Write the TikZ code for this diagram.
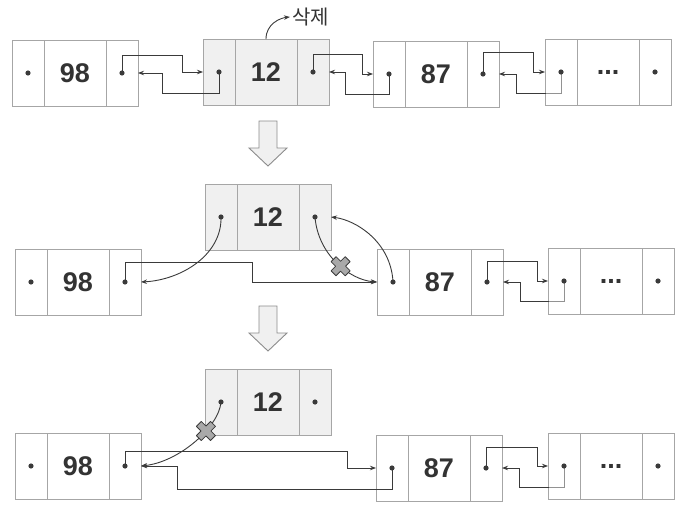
\documentclass[tikz,border=0pt]{standalone}
\usepackage{fontspec}
\setmainfont{Liberation Sans}
\newfontfamily\krfont{Noto Sans CJK KR}
\usetikzlibrary{arrows.meta,calc}

\definecolor{boxline}{HTML}{A6A6A6}
\definecolor{cellgray}{HTML}{F0F0F0}
\definecolor{ink}{HTML}{3A3A3A}
\definecolor{txt}{HTML}{333333}
\definecolor{xfill}{HTML}{A9A9A9}
\definecolor{arrowline}{HTML}{8C8C8C}

\newcommand\numfont{\fontsize{27}{27}\selectfont\bfseries}

\tikzset{
  cell/.style={draw=boxline, line width=0.9pt, inner sep=0pt, outer sep=0pt,
               minimum height=66pt, anchor=north west, text=txt, font=\numfont},
  link/.style={draw=ink, line width=0.9pt, -{Stealth[length=6pt,width=4.5pt]}},
  ptr/.style={fill=ink},
  fade/.style={fill=white, fill opacity=0.45},
  xmark/.pic={\filldraw[fill=xfill, draw=ink, line width=0.8pt, line join=round, rotate=45]
     (-3.5,-10) -- (3.5,-10) -- (3.5,-3.5) -- (10,-3.5) -- (10,3.5) -- (3.5,3.5)
     -- (3.5,10) -- (-3.5,10) -- (-3.5,3.5) -- (-10,3.5) -- (-10,-3.5) -- (-3.5,-3.5) -- cycle;},
  downarrow/.pic={\filldraw[fill=cellgray, draw=arrowline, line width=0.9pt, line join=miter]
     (-9,0) -- (9,0) -- (9,27) -- (19,27) -- (0,45) -- (-19,27) -- (-9,27) -- cycle;}
}

% one list node: prev cell, value cell, next cell
% #1 name, #2 left, #3 top, #4 fill, #5 value
\newcommand\dllnode[5]{%
  \node[cell, fill=#4, minimum width=32pt] (#1-l) at (#2,#3) {};
  \node[cell, fill=#4, minimum width=62pt] (#1-m) at (#1-l.north east) {#5};
  \node[cell, fill=#4, minimum width=32pt] (#1-r) at (#1-m.north east) {};
}

\begin{document}
\begin{tikzpicture}[x=1pt,y=-1pt]
\useasboundingbox (0,0) rectangle (689,514);

% ---------- before removal ----------
\dllnode{a}{12}{40}{white}{98}
\dllnode{b}{203}{39}{cellgray}{12}
\dllnode{c}{373}{41}{white}{87}
\dllnode{d}{545}{39}{white}{...}

\node[font=\krfont\fontsize{20}{20}\selectfont, text=txt, anchor=west, inner sep=2pt]
  (del) at (290,17) {삭제};
\draw[link] (b-m.north) .. controls +(0,-15) and +(-10,1) .. (del.west);

\draw[link] (a-r.center) -- ++(0,-18) -| ($(b-l.west)+(-21,0)$) -- (b-l.west);
\draw[link] (b-l.center) -- ++(0,21) -| ($(a-r.east)+(24,0)$) -- (a-r.east);
\draw[link] (b-r.center) -- ++(0,-18) -| ($(c-l.west)+(-11,0)$) -- (c-l.west);
\draw[link] (c-l.center) -- ++(0,20) -| ($(b-r.east)+(16,0)$) -- (b-r.east);
\draw[link] (c-r.center) -- ++(0,-22) -| ($(d-l.west)+(-12,0)$) -- (d-l.west);
\draw[link] (d-l.center) -- ++(0,21) -| ($(c-r.east)+(17,0)$) -- (c-r.east);

\pic at (268,121) {downarrow};

% ---------- relinking ----------
\dllnode{b2}{205}{184}{cellgray}{12}
\dllnode{a2}{15}{249}{white}{98}
\dllnode{c2}{377}{249}{white}{87}
\dllnode{d2}{548}{248}{white}{...}

\draw[link] (a2-r.center) -- ++(0,-20) -| ($(c2-l.west)+(-125,0)$) -- (c2-l.west);
\draw[link] (b2-l.center) .. controls +(1,38) and +(40,-2) .. (a2-r.east);
\draw[link] (b2-r.center) .. controls +(3,38) and +(-27,-2) .. (c2-l.west)
  coordinate[pos=0.55] (cut1);
\draw[link] (c2-l.center) .. controls +(-2,-40) and +(25,3) .. (b2-r.east);
\pic at (cut1) {xmark};
\draw[link] (c2-r.center) -- ++(0,-21) -| ($(d2-l.west)+(-11,0)$) -- (d2-l.west);
\draw[link] (d2-l.center) -- ++(0,20) -| ($(c2-r.east)+(17,0)$) -- (c2-r.east);

\pic at (268,306) {downarrow};

% ---------- after removal ----------
\dllnode{b3}{205}{369}{cellgray}{12}
\dllnode{a3}{15}{433}{white}{98}
\dllnode{c3}{376}{435}{white}{87}
\dllnode{d3}{548}{433}{white}{...}

\draw[link] (a3-r.center) -- ++(0,-15) -| ($(c3-l.west)+(-29,0)$) -- (c3-l.west);
\draw[link] (c3-l.center) -- ++(0,21) -| ($(a3-r.east)+(36,0)$) -- (a3-r.east);
\draw[link] (b3-l.center) .. controls +(-2,25) and +(38,-4) .. (a3-r.east)
  coordinate[pos=0.36] (cut2);
\pic at (cut2) {xmark};
\draw[link] (c3-r.center) -- ++(0,-21) -| ($(d3-l.west)+(-11,0)$) -- (d3-l.west);
\draw[link] (d3-l.center) -- ++(0,21) -| ($(c3-r.east)+(17,0)$) -- (c3-r.east);

% lines running inside the last node's prev cell look faded
\foreach \n in {d,d2,d3}
  \fill[fade] ($(\n-l.north west)+(1,1)$) rectangle ($(\n-l.south east)+(-1,-1)$);

% pointer dots
\foreach \n in {a,b,c,d,a2,b2,c2,d2,a3,b3,c3,d3}{
  \fill[ptr] (\n-l.center) circle[radius=2.6pt];
  \fill[ptr] (\n-r.center) circle[radius=2.6pt];
}
\end{tikzpicture}
\end{document}
